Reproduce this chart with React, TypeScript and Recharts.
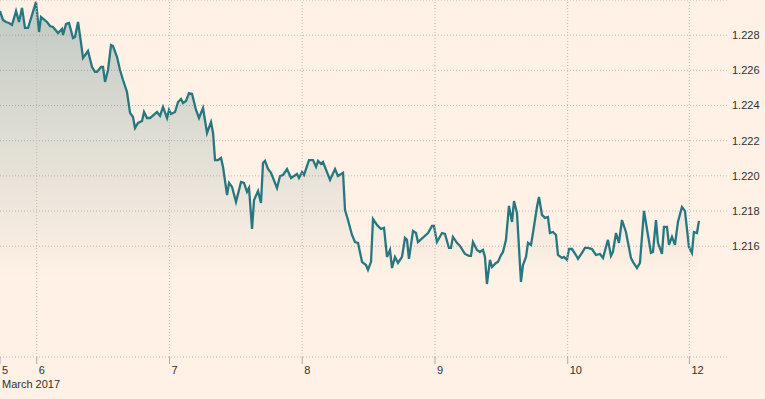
import React from "react";
import { AreaChart, Area, XAxis, YAxis, CartesianGrid, ReferenceLine } from "recharts";

// trading hours from Mon 6 March 00:00 (weekend gap collapsed)
const hours = [
  -6.64, -6.09, -5.55, -5.01, -4.47, -3.74, -3.2, -2.66, -2.12, -1.57,
  -0.13, 0.42, 0.78, 1.86, 2.4, 2.95, 3.85, 4.57, 4.75, 5.3,
  5.84, 6.56, 6.92, 7.47, 8.01, 8.37, 9.27, 10.0, 10.54, 10.9,
  11.62, 11.99, 12.35, 12.89, 13.43, 13.79, 14.52, 15.06, 15.6, 16.32,
  16.87, 17.41, 17.77, 18.31, 19.04, 19.4, 19.94, 20.48, 21.75, 22.29,
  22.83, 23.56, 23.92, 24.28, 25.0, 25.55, 26.09, 26.45, 26.99, 27.53,
  28.08, 28.8, 29.34, 30.07, 30.79, 31.51, 31.88, 32.24, 32.78, 33.32,
  33.68, 34.41, 34.77, 35.31, 36.03, 36.94, 37.48, 38.02, 38.38, 38.93,
  39.29, 40.01, 40.55, 40.91, 41.27, 41.82, 42.36, 43.44, 43.99, 44.53,
  45.25, 45.98, 47.06, 47.42, 47.97, 48.33, 49.23, 49.96, 50.5, 50.86,
  51.4, 51.76, 53.03, 53.93, 54.47, 55.38, 55.74, 56.28, 57.0, 57.54,
  58.09, 58.81, 59.53, 59.89, 60.44, 60.8, 61.52, 62.24, 62.79, 63.33,
  63.87, 64.23, 64.77, 65.32, 66.04, 66.58, 66.94, 67.3, 68.03, 68.57,
  68.93, 70.74, 71.46, 71.82, 72.36, 73.27, 73.81, 74.53, 74.89, 75.25,
  75.98, 76.52, 77.42, 78.15, 78.51, 78.87, 79.59, 80.14, 80.68, 81.04,
  81.4, 81.95, 82.31, 83.03, 83.39, 83.94, 84.3, 84.84, 85.38, 85.93,
  86.29, 86.83, 87.55, 87.91, 88.46, 88.82, 89.36, 89.72, 90.44, 90.81,
  91.35, 91.89, 92.43, 92.79, 93.34, 93.88, 94.24, 94.96, 95.32, 95.87,
  96.23, 96.77, 97.49, 97.86, 98.58, 99.12, 99.66, 100.39, 101.11, 101.83,
  102.38, 103.28, 103.82, 104.18, 104.73, 105.27, 105.81, 106.53, 107.44, 107.8,
  108.52, 109.06, 109.79, 110.51, 111.05, 111.41, 111.96, 112.32, 113.04, 113.4,
  113.94, 114.31, 114.85, 115.39, 115.93, 116.66, 117.2, 117.92, 118.46, 118.82,
  119.37, 119.73,
];

// EUR/USD-style rate
const rates = [
  1.22937, 1.22886, 1.22875, 1.22869, 1.22858, 1.22937, 1.22875, 1.22955, 1.22841, 1.22841,
  1.22989, 1.22818, 1.22903, 1.22875, 1.22852, 1.22847, 1.22812, 1.22835, 1.22801, 1.22864,
  1.22869, 1.22784, 1.2279, 1.22875, 1.22756, 1.2267, 1.2271, 1.22619, 1.22591, 1.22591,
  1.22619, 1.22619, 1.22534, 1.22602, 1.22744, 1.22738, 1.22676, 1.22602, 1.22545, 1.22477,
  1.22358, 1.22335, 1.22272, 1.22301, 1.22312, 1.22363, 1.22329, 1.22329, 1.22363, 1.22341,
  1.22392, 1.22329, 1.22375, 1.22352, 1.22363, 1.2242, 1.22437, 1.22414, 1.22426, 1.22471,
  1.22466, 1.22375, 1.22329, 1.22386, 1.22244, 1.22306, 1.22244, 1.2209, 1.2209, 1.22102,
  1.22051, 1.21891, 1.2196, 1.21937, 1.21852, 1.21965, 1.2196, 1.21909, 1.21931, 1.21698,
  1.21863, 1.21914, 1.21846, 1.22073, 1.22085, 1.22039, 1.22017, 1.21931, 1.21999, 1.22005,
  1.22039, 1.21988, 1.22011, 1.21988, 1.22022, 1.22005, 1.2209, 1.2209, 1.22051, 1.22085,
  1.22068, 1.22079, 1.21977, 1.22039, 1.21999, 1.22017, 1.21806, 1.21749, 1.21664, 1.21624,
  1.21619, 1.21511, 1.21493, 1.21465, 1.21511, 1.21755, 1.21721, 1.21698, 1.21704, 1.21539,
  1.21579, 1.21476, 1.21539, 1.21505, 1.21539, 1.21647, 1.21636, 1.21528, 1.21687, 1.21675,
  1.21624, 1.21675, 1.21715, 1.21715, 1.21624, 1.21675, 1.2167, 1.2159, 1.2159, 1.21653,
  1.21619, 1.21602, 1.21556, 1.21545, 1.21545, 1.21624, 1.21579, 1.21567, 1.21579, 1.21539,
  1.21385, 1.21522, 1.21482, 1.21505, 1.21511, 1.2155, 1.21567, 1.21636, 1.21829, 1.21738,
  1.21857, 1.21789, 1.21397, 1.21493, 1.21539, 1.21619, 1.21607, 1.21675, 1.21823, 1.2188,
  1.21778, 1.21761, 1.21766, 1.21675, 1.21681, 1.21664, 1.2155, 1.21533, 1.21539, 1.21522,
  1.21584, 1.21584, 1.2155, 1.21528, 1.21562, 1.2159, 1.2159, 1.21584, 1.2155, 1.21556,
  1.21533, 1.21636, 1.21545, 1.21567, 1.21675, 1.21619, 1.21749, 1.21681, 1.21533, 1.21511,
  1.21476, 1.21505, 1.21801, 1.21664, 1.21562, 1.21567, 1.21749, 1.21619, 1.21556, 1.2171,
  1.2171, 1.21607, 1.21653, 1.21607, 1.21738, 1.21823, 1.21801, 1.21596, 1.21562, 1.21681,
  1.21675, 1.21744,
];

const dayTicks = [-6.64, 0, 24, 48, 72, 96, 118];
const dayLabels = ["5", "6", "7", "8", "9", "10", "12"];
const monthLabel = "March 2017";
const rateTicks = [1.216, 1.218, 1.22, 1.222, 1.224, 1.226, 1.228];

const X_DOMAIN: [number, number] = [-6.64, 124.8];
const Y_DOMAIN: [number, number] = [1.2097, 1.23];

const BG = "#fff1e5";
const LINE = "#277780";
const GRID = "#c4b9ae";
const INK = "#33302e";
const FONT = "'Liberation Sans', Arial, sans-serif";

const data = hours.map((t, i) => ({ t, v: rates[i] }));

function DayTick(props: any) {
  const { x, y, payload, index } = props;
  const i = dayTicks.indexOf(payload.value);
  return (
    <g>
      <text x={x + 2} y={y} dy="0.71em" fontSize={11} fill={INK} fontFamily={FONT}>
        {dayLabels[i >= 0 ? i : index]}
      </text>
      {index === 0 && (
        <text x={x + 2} y={y + 14} dy="0.71em" fontSize={11} fill={INK} fontFamily={FONT}>
          {monthLabel}
        </text>
      )}
    </g>
  );
}

function RateTick(props: any) {
  const { x, y, payload } = props;
  return (
    <text x={x} y={y} dy="0.35em" fontSize={11} fill={INK} fontFamily={FONT}>
      {payload.value.toFixed(3)}
    </text>
  );
}

export default function App() {
  return (
    <div style={{ position: "fixed", left: 0, top: 0, width: 765, height: 399, background: BG }}>
      <AreaChart width={765} height={399} data={data} margin={{ top: 0, right: 0, left: 0, bottom: 0 }}>
        <defs>
          <linearGradient id="fxFill" x1="0" y1="0" x2="0" y2="1">
            <stop offset="0%" stopColor="#2e6e75" stopOpacity={0.5} />
            <stop offset="78%" stopColor="#2e6e75" stopOpacity={0} />
          </linearGradient>
        </defs>
        <CartesianGrid stroke={GRID} strokeDasharray="1 2" vertical={false} />
        {dayTicks.slice(1).map((t) => (
          <ReferenceLine key={t} x={t} stroke={GRID} strokeDasharray="1 2" />
        ))}
        <XAxis
          dataKey="t"
          type="number"
          domain={X_DOMAIN}
          ticks={dayTicks}
          allowDataOverflow
          height={42}
          axisLine={false}
          tickLine={{ stroke: "#b0a79f" }}
          tickSize={7}
          tickMargin={2}
          interval={0}
          tick={<DayTick />}
        />
        <YAxis
          orientation="right"
          type="number"
          domain={Y_DOMAIN}
          ticks={rateTicks}
          allowDataOverflow
          width={38}
          axisLine={false}
          tickLine={false}
          tickSize={0}
          tickMargin={5}
          tick={<RateTick />}
        />
        <Area
          type="linear"
          dataKey="v"
          stroke={LINE}
          strokeWidth={2.3}
          fill="url(#fxFill)"
          baseValue={Y_DOMAIN[0]}
          dot={false}
          activeDot={false}
          isAnimationActive={false}
        />
      </AreaChart>
    </div>
  );
}
